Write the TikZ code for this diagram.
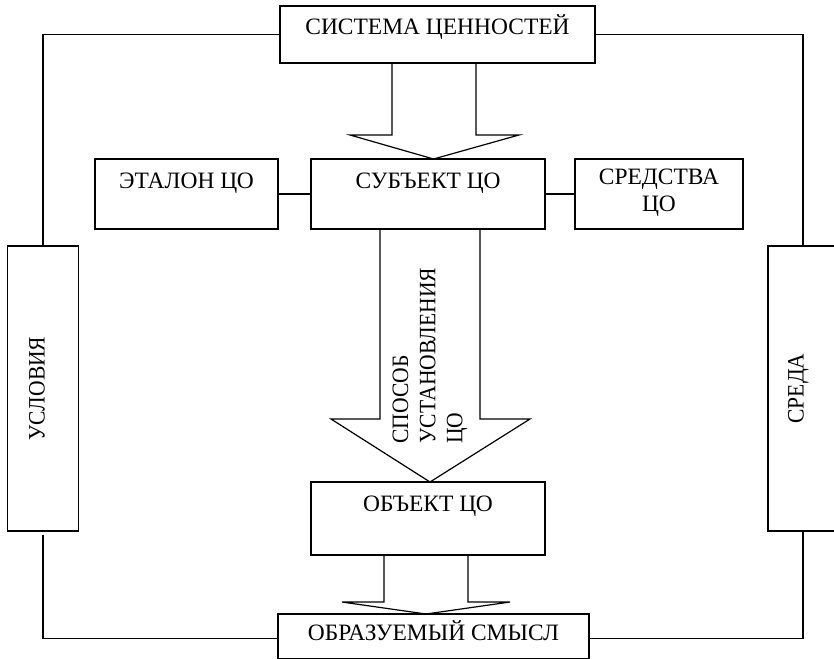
\documentclass[tikz,border=0pt]{standalone}
\usepackage{fontspec}
\setmainfont{Liberation Serif}
\newfontfamily\condserif{Liberation Serif}[FakeStretch=0.92]
\begin{document}
\begin{tikzpicture}[x=0.75pt,y=-0.75pt, line width=0.9pt,
  box/.style n args={2}{draw, inner sep=0pt, minimum width=#1*0.75pt, minimum height=#2*0.75pt},
  txt/.style={inner sep=0pt, font=\fontsize{17.6}{20.3}\selectfont, text height=11.6pt, text depth=0pt},
  rtxt/.style={txt, rotate=90, font=\condserif\fontsize{17.6}{20.3}\selectfont},
  mtxt/.style={inner sep=0pt, font=\fontsize{17.6}{20.3}\selectfont, align=center},
  blockarrow/.style={draw, line join=miter}]
\useasboundingbox (0,0) rectangle (834,659);
% boxes
\node[box={315}{57}] (sys) at (437.5,34.5) {};
\node[txt] (systxt) at (437.5,27) {СИСТЕМА ЦЕННОСТЕЙ};
\node[box={183}{70}] (etal) at (186.5,194) {};
\node[txt] (etaltxt) at (186.5,181) {ЭТАЛОН ЦО};
\node[box={234}{70}] (subj) at (428,194) {};
\node[txt] (subjtxt) at (428,181) {СУБЪЕКТ ЦО};
\node[box={168}{70}] (sred) at (659,194) {};
\node[mtxt] (sredtxt) at (659,193) {СРЕДСТВА\\ЦО};
\node[box={70.5}{285}] (usl) at (43,388.5) {};
\node[rtxt] (usltxt) at (37,388.5) {УСЛОВИЯ};
\node[box={70}{285}] (sreda) at (803,388.5) {};
\node[rtxt] (sredatxt) at (796,388.5) {СРЕДА};
\node[box={234}{73}] (obj) at (428,518.5) {};
\node[txt] (objtxt) at (428,503.5) {ОБЪЕКТ ЦО};
\node[box={311}{45}] (res) at (433.5,636.5) {};
\node[txt] (restxt) at (433.5,633) {ОБРАЗУЕМЫЙ СМЫСЛ};
% block arrows
\draw[blockarrow] (392,63) -- (392,135) -- (350,135) -- (433.5,159) -- (519,135) -- (476,135) -- (476,63);
\draw[blockarrow] (380,229) -- (380,419) -- (331,419) -- (430,482) -- (530,419) -- (480,419) -- (480,229);
\draw[blockarrow] (384,555) -- (384,602) -- (342,602) -- (426,614) -- (510,602) -- (468,602) -- (468,555);
\node[mtxt, align=left, rotate=90, anchor=west, font=\condserif\fontsize{17.6}{20.3}\selectfont] (way) at (430,444) {СПОСОБ\\УСТАНОВЛЕНИЯ\\ЦО};
% connectors
\draw (sys.west) -| (usl.north);
\draw (sys.east) -| (sreda.north);
\draw (etal.east) -- (subj.west);
\draw (subj.east) -- (sred.west);
\draw ([yshift=-2.5pt]usl.south) |- ([yshift=-1.5pt]res.west);
\draw (sreda.south) |- ([yshift=-1.5pt]res.east);
\end{tikzpicture}
\end{document}
